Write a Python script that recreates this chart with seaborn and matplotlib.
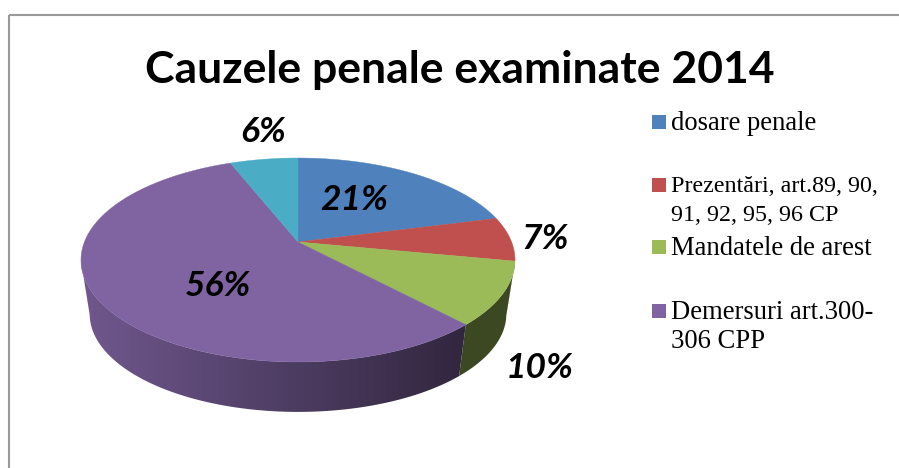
import matplotlib
matplotlib.use('Agg')
import matplotlib.pyplot as plt
from matplotlib.patches import Polygon, Rectangle
import numpy as np
import seaborn as sns

title = 'Cauzele penale examinate 2014'
shares = [21, 7, 10, 56, 6]
legend_labels = ['dosare penale', 'Prezentări, art.89, 90,\n91, 92, 95, 96 CP', 'Mandatele de arest', 'Demersuri art.300-\n306 CPP']
slice_colors = ['#4f81bd', '#c0504d', '#9bbb59', '#8064a2', '#4bacc6']

share_label_xy = [(354, 200), (545, 239), (540, 368), (218, 286), (263, 132)]
legend_y = [122, 185, 247, 311]
legend_text_y = [111, 176, 236, 300]
legend_sizes = [19.2, 17.3, 19.2, 19.2]
legend_spacing = [1.19, 1.49, 1.19, 1.23]

sns.set_theme(style='white')
palette = sns.color_palette(slice_colors)

fig = plt.figure(figsize=(8.99, 4.68), dpi=100)
ax = fig.add_axes([0, 0, 1, 1])

wedges, _ = ax.pie(shares, startangle=90, counterclock=False, colors=palette)
arcs = [np.radians(np.linspace(w.theta1, w.theta2, 200)) for w in wedges]
for w in wedges:
    w.remove()

ax.set_aspect('auto')
ax.axis('off')

# tilted disc: unit circle through a perspective map, apex at (298, 242)
def project(theta):
    x, y = np.cos(theta), np.sin(theta)
    w = 1 + 0.1765 * y
    return 298 + 213.6 * x / w, 242 - 98.8 * y / w

def project_bottom(theta):
    px, py = project(theta)
    return 298 + (px - 298) * 0.96, 314 + (py - 260) * 0.96

# side wall first, only the front part of each arc, darker towards the right
shade = np.interp(np.linspace(80, 520, 256), [85, 460, 520], [0.87, 0.39, 0.39])
for arc, color in zip(arcs, palette):
    front = arc[np.sin(arc) <= -0.1765]
    if len(front) < 2:
        continue
    tx, ty = project(front)
    bx, by = project_bottom(front)
    wall = Polygon(np.r_[np.c_[tx, ty], np.c_[bx, by][::-1]], closed=True, transform=ax.transData, fc='none', ec='none')
    ax.add_patch(wall)
    img = np.array(color)[None, None, :] * shade[None, :, None]
    im = ax.imshow(img, extent=(80, 520, 420, 150), aspect='auto', zorder=2)
    im.set_clip_path(wall)

ax.set_xlim(0, 899)
ax.set_ylim(468, 0)

for arc, color in zip(arcs, palette):
    tx, ty = project(arc)
    pts = np.r_[[[298, 242]], np.c_[tx, ty]]
    ax.add_patch(Polygon(pts, closed=True, fc=color, ec=color, lw=0.3, zorder=3))

# chart frame runs off the right and bottom of the picture
ax.add_patch(Rectangle((9, 15), 1000, 600, fc='none', ec='#999999', lw=1.5, zorder=1))

ax.text(460, 70, title, ha='center', va='center', fontsize=32, fontweight='bold', family='Lato', color='black', zorder=5)

for share, (x, y) in zip(shares, share_label_xy):
    ax.text(x, y, f'{share}%', ha='center', va='center', fontsize=25.5, fontweight='bold', fontstyle='italic', family='Lato', color='black', zorder=5)

for i, label in enumerate(legend_labels):
    ax.add_patch(Rectangle((652, legend_y[i] - 7), 14, 14, fc=palette[i], ec='none', zorder=4))
    ax.text(671, legend_text_y[i], label, ha='left', va='top', fontsize=legend_sizes[i], family='Liberation Serif', color='black', linespacing=legend_spacing[i], zorder=5)

fig.savefig('out.png', dpi=100, facecolor='white')
